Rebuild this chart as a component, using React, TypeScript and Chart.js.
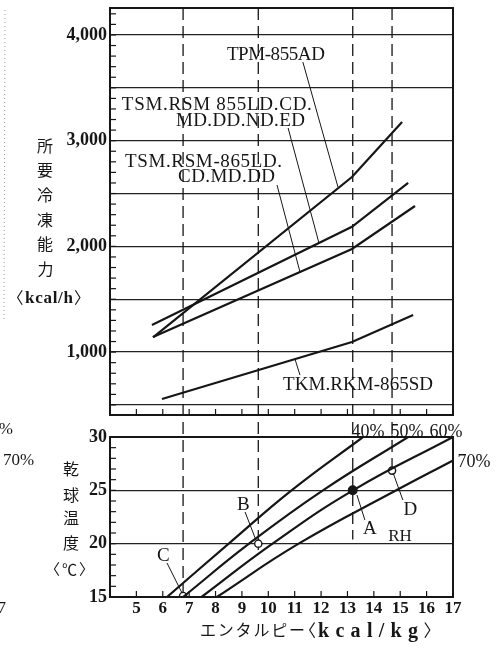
import React, { useEffect, useRef } from 'react';
import { Chart, registerables } from 'chart.js';

Chart.register(...registerables);

// ---------------- shared enthalpy axis (kcal/kg) ----------------
const enthalpyMin = 4;
const enthalpyMax = 17;
const enthalpyTicks = [5, 6, 7, 8, 9, 10, 11, 12, 13, 14, 15, 16, 17];

// ---------------- top panel: required refrigeration capacity (kcal/h) ----------------
const capacityMin = 405;
const capacityMax = 4255;
const capacityGrid = [500, 1000, 1500, 2000, 2500, 3000, 3500, 4000];
const capacityLabelled = [1000, 2000, 3000, 4000];

const tpmEnthalpy = [5.63, 13.17, 15.07];
const tpmCapacity = [1140, 2656, 3177];

const tsm855Enthalpy = [5.59, 13.17, 15.3];
const tsm855Capacity = [1256, 2185, 2600];

const tsm865Enthalpy = [5.63, 13.17, 15.56];
const tsm865Capacity = [1143, 1975, 2382];

const tkmEnthalpy = [5.97, 13.17, 15.49];
const tkmCapacity = [556, 1096, 1351];

// ---------------- bottom panel: dry bulb temperature (°C) ----------------
const tempMin = 15;
const tempMax = 30;
const tempGrid = [15, 20, 25, 30];

const rh40Enthalpy = [6.16, 8.5, 10.88, 13.59];
const rh40Temp = [15, 20, 25, 30];
const rh50Enthalpy = [6.77, 9.27, 12.07, 15.3];
const rh50Temp = [15, 20, 25, 30];
const rh60Enthalpy = [7.47, 10.16, 13.21, 17.0];
const rh60Temp = [15, 20, 25, 30];
const rh70Enthalpy = [8.05, 11.15, 14.85, 17.0];
const rh70Temp = [15, 20, 25, 27.8];

// state points A-D
const pointNames = ['A', 'B', 'C', 'D'];
const pointEnthalpy = [13.2, 9.62, 6.77, 14.69];
const pointTemp = [25, 20, 15.1, 26.85];

// dashed guides (enthalpy of each point, and where each guide stops in the lower panel)
const guideEnthalpy = [6.77, 9.62, 13.2, 14.69];
const guideTempEnd = [15, 19.4, 20.4, 26.85];

// ---------------- annotations (data coordinates) ----------------
const topLabels = [
  { text: 'TPM-855AD', e: 8.43, v: 3824, w: 98 },
  { text: 'TSM.RSM 855LD.CD.', e: 4.45, v: 3351, w: 190 },
  { text: 'MD.DD.ND.ED', e: 6.5, v: 3205, w: 129 },
  { text: 'TSM.RSM-865LD.', e: 4.57, v: 2817, w: 157 },
  { text: 'CD.MD.DD', e: 6.58, v: 2666, w: 97 },
  { text: 'TKM.RKM-865SD', e: 10.56, v: 703, w: 150 },
];
const topLeaderStartE = [11.31, 10.75, 10.33, 11.01];
const topLeaderStartV = [3744, 3120, 2581, 935];
const topLeaderEndE = [12.64, 11.92, 11.2, 11.2];
const topLeaderEndV = [2562, 2032, 1758, 783];

const rhLabels = [
  { text: '40%', e: 13.78, t: 30.62 },
  { text: '50%', e: 15.26, t: 30.62 },
  { text: '60%', e: 16.73, t: 30.62 },
  { text: '70%', e: 17.8, t: 27.84 },
];
const pointLabelE = [13.85, 9.04, 6.01, 15.37];
const pointLabelT = [21.56, 23.72, 18.94, 23.34];
const rhTitle = { text: 'RH', e: 14.99, t: 20.81 };
const bottomLeaderStartE = [13.36, 9.12, 6.16, 14.73];
const bottomLeaderStartT = [24.56, 22.97, 18.19, 26.63];
const bottomLeaderEndE = [13.66, 9.53, 6.73, 15.1];
const bottomLeaderEndT = [22.22, 20.34, 15.38, 24.09];

// ---------------- styling / layout ----------------
const INK = '#161616';
const SERIF = '"Liberation Serif", "DejaVu Serif", serif';
const CJK = '"Noto Sans CJK JP", "Noto Sans CJK SC", sans-serif';
const W = 501;
const H = 648;
const PLOT_LEFT = 110;
const PLOT_RIGHT_PAD = 48;
const TOP_PANEL_TOP = 8;
const TOP_PANEL_BOTTOM = 415;
const BOTTOM_PANEL_TOP = 437;
const BOTTOM_PANEL_BOTTOM = 597;
const DASH = [12, 6];

function pts(xs: number[], ys: number[]) {
  return xs.map((x, i) => ({ x, y: ys[i] }));
}

function curve(xs: number[], ys: number[], smooth = false) {
  return {
    data: pts(xs, ys),
    borderColor: INK,
    borderWidth: 2.2,
    pointRadius: 0,
    fill: false,
    tension: smooth ? 0.45 : 0,
  };
}

function leaders(sx: number[], sy: number[], ex: number[], ey: number[]) {
  return sx.map((_, i) => ({
    data: [
      { x: sx[i], y: sy[i] },
      { x: ex[i], y: ey[i] },
    ],
    borderColor: INK,
    borderWidth: 1,
    pointRadius: 0,
    fill: false,
    tension: 0,
  }));
}

function strokeLine(ctx: any, x1: number, y1: number, x2: number, y2: number) {
  ctx.beginPath();
  ctx.moveTo(x1, y1);
  ctx.lineTo(x2, y2);
  ctx.stroke();
}

// text drawn char-by-char so that it spans a given width (the scan's wide typesetting)
function drawText(ctx: any, text: string, x: number, cy: number, font: string, align: string, width?: number) {
  ctx.save();
  ctx.font = font;
  ctx.fillStyle = INK;
  ctx.textAlign = 'left';
  ctx.textBaseline = 'alphabetic';
  const chars = Array.from(text);
  const adv = chars.map((c) => ctx.measureText(c).width);
  const natural = adv.reduce((a, b) => a + b, 0);
  const spacing = width !== undefined && chars.length > 1 ? (width - natural) / (chars.length - 1) : 0;
  const total = width !== undefined ? width : natural;
  let sx = align === 'left' ? x : align === 'center' ? x - total / 2 : x - total;
  const cap = ctx.measureText('H').actualBoundingBoxAscent;
  const baseline = cy + cap / 2;
  chars.forEach((c, i) => {
    ctx.fillText(c, sx, baseline);
    sx += adv[i] + spacing;
  });
  ctx.restore();
}

// single glyph (or short string) with its ink box centred at (cx, cy)
function drawCentered(ctx: any, text: string, cx: number, cy: number, font: string) {
  ctx.save();
  ctx.font = font;
  ctx.fillStyle = INK;
  ctx.textAlign = 'left';
  ctx.textBaseline = 'alphabetic';
  const m = ctx.measureText(text);
  const x = cx - (m.actualBoundingBoxRight - m.actualBoundingBoxLeft) / 2;
  const y = cy + (m.actualBoundingBoxAscent - m.actualBoundingBoxDescent) / 2;
  ctx.fillText(text, x, y);
  ctx.restore();
}

const topDecor = {
  id: 'topDecor',
  beforeDatasetsDraw(chart: any) {
    const { ctx, chartArea: a, scales } = chart;
    ctx.save();
    ctx.strokeStyle = INK;
    ctx.lineWidth = 1.3;
    ctx.setLineDash(DASH);
    guideEnthalpy.forEach((e) => {
      const px = scales.x.getPixelForValue(e);
      strokeLine(ctx, px, a.top, px, BOTTOM_PANEL_TOP);
    });
    ctx.restore();
  },
  afterDraw(chart: any) {
    const { ctx, chartArea: a, scales } = chart;
    const x = scales.x;
    const y = scales.y;
    ctx.save();
    ctx.strokeStyle = INK;
    ctx.lineWidth = 1.2;
    for (let v = 500; v <= 4200; v += 100) {
      const py = y.getPixelForValue(v);
      strokeLine(ctx, a.left, py, a.left + 6, py);
    }
    enthalpyTicks.forEach((e) => {
      if (e >= enthalpyMax) return;
      const px = x.getPixelForValue(e);
      strokeLine(ctx, px, a.bottom, px, a.bottom - 6);
    });
    ctx.lineWidth = 2;
    ctx.strokeRect(a.left, a.top, a.right - a.left, a.bottom - a.top);

    topLabels.forEach((l) => {
      drawText(ctx, l.text, x.getPixelForValue(l.e), y.getPixelForValue(l.v), `19px ${SERIF}`, 'left', l.w);
    });

    // vertical axis title
    const titleChars = ['所', '要', '冷', '凍', '能', '力'];
    titleChars.forEach((c, i) => drawCentered(ctx, c, 45, 146 + i * 24.6, `16px ${CJK}`));
    drawCentered(ctx, '〈', 20, 297, `16px ${CJK}`);
    drawText(ctx, 'kcal/h', 25, 297, `bold 17px ${SERIF}`, 'left', 48);
    drawCentered(ctx, '〉', 77.5, 297, `16px ${CJK}`);

    // scan edge of the facing page
    ctx.strokeStyle = '#9a9a9a';
    ctx.lineWidth = 1;
    ctx.setLineDash([1, 3]);
    strokeLine(ctx, 5, 10, 4, 320);
    ctx.restore();
  },
};

const bottomDecor = {
  id: 'bottomDecor',
  beforeDatasetsDraw(chart: any) {
    const { ctx, chartArea: a, scales } = chart;
    ctx.save();
    ctx.strokeStyle = INK;
    ctx.lineWidth = 1.3;
    ctx.setLineDash(DASH);
    ctx.lineDashOffset = (BOTTOM_PANEL_TOP - TOP_PANEL_TOP) % (DASH[0] + DASH[1]);
    guideEnthalpy.forEach((e, i) => {
      const px = scales.x.getPixelForValue(e);
      strokeLine(ctx, px, a.top, px, scales.y.getPixelForValue(guideTempEnd[i]));
    });
    ctx.restore();
  },
  afterDraw(chart: any) {
    const { ctx, chartArea: a, scales } = chart;
    const x = scales.x;
    const y = scales.y;
    ctx.save();
    ctx.strokeStyle = INK;
    ctx.lineWidth = 1.2;
    for (let t = tempMin; t <= tempMax; t += 1) {
      const py = y.getPixelForValue(t);
      strokeLine(ctx, a.left, py, a.left + 6, py);
    }
    enthalpyTicks.forEach((e) => {
      if (e >= enthalpyMax) return;
      const px = x.getPixelForValue(e);
      strokeLine(ctx, px, a.bottom, px, a.bottom - 6);
    });
    ctx.lineWidth = 2;
    ctx.strokeRect(a.left, a.top, a.right - a.left, a.bottom - a.top);

    rhLabels.forEach((l) => {
      drawText(ctx, l.text, x.getPixelForValue(l.e), y.getPixelForValue(l.t), `18px ${SERIF}`, 'center');
    });
    pointNames.forEach((n, i) => {
      drawCentered(ctx, n, x.getPixelForValue(pointLabelE[i]), y.getPixelForValue(pointLabelT[i]), `19px ${SERIF}`);
    });
    drawText(ctx, rhTitle.text, x.getPixelForValue(rhTitle.e), y.getPixelForValue(rhTitle.t), `17px ${SERIF}`, 'center');

    // vertical axis title
    const titleChars = ['乾', '球', '温', '度'];
    const titleY = [469, 495, 518, 543];
    titleChars.forEach((c, i) => drawCentered(ctx, c, 71, titleY[i], `16px ${CJK}`));
    drawCentered(ctx, '〈', 56.5, 569, `15px ${CJK}`);
    drawCentered(ctx, '℃', 69.5, 569, `15px ${CJK}`);
    drawCentered(ctx, '〉', 82.5, 569, `15px ${CJK}`);

    // horizontal axis title
    drawText(ctx, 'エンタルピー', 200, 630, `16px ${CJK}`, 'left', 105);
    drawCentered(ctx, '〈', 312, 630, `17px ${CJK}`);
    drawText(ctx, 'kcal/kg', 318, 630, `bold 20px ${SERIF}`, 'left', 100);
    drawCentered(ctx, '〉', 427, 630, `17px ${CJK}`);

    // fragments of the facing page
    drawText(ctx, '60%', 13, 428, `17px ${SERIF}`, 'right');
    drawText(ctx, '70%', 3, 459, `17px ${SERIF}`, 'left');
    drawText(ctx, '17', 6, 607, `17px ${SERIF}`, 'right');
    ctx.restore();
  },
};

export default function App() {
  const topRef = useRef<HTMLCanvasElement>(null);
  const bottomRef = useRef<HTMLCanvasElement>(null);

  useEffect(() => {
    const tickFont = { family: SERIF, size: 18, weight: 'bold' as const };

    const top = new Chart(topRef.current as HTMLCanvasElement, {
      type: 'line',
      data: {
        datasets: [
          curve(tpmEnthalpy, tpmCapacity),
          curve(tsm855Enthalpy, tsm855Capacity),
          curve(tsm865Enthalpy, tsm865Capacity),
          curve(tkmEnthalpy, tkmCapacity),
          ...leaders(topLeaderStartE, topLeaderStartV, topLeaderEndE, topLeaderEndV),
        ] as any,
      },
      options: {
        animation: false,
        responsive: false,
        maintainAspectRatio: false,
        devicePixelRatio: 1,
        events: [],
        layout: { padding: { left: 0, right: PLOT_RIGHT_PAD, top: TOP_PANEL_TOP, bottom: H - TOP_PANEL_BOTTOM } },
        plugins: { legend: { display: false }, tooltip: { enabled: false } },
        scales: {
          x: { type: 'linear', min: enthalpyMin, max: enthalpyMax, display: false },
          y: {
            type: 'linear',
            min: capacityMin,
            max: capacityMax,
            position: 'left',
            afterBuildTicks: (s: any) => {
              s.ticks = capacityGrid.map((v) => ({ value: v }));
            },
            afterFit: (s: any) => {
              s.width = PLOT_LEFT;
              s.paddingTop = 0;
              s.paddingBottom = 0;
            },
            border: { display: false },
            grid: { color: '#222', lineWidth: 1.3, drawTicks: false },
            ticks: {
              color: INK,
              font: tickFont,
              padding: 3,
              autoSkip: false,
              callback: (v: any) => (capacityLabelled.includes(Number(v)) ? Number(v).toLocaleString('en-US') : ''),
            },
          },
        },
      } as any,
      plugins: [topDecor],
    });

    const bottom = new Chart(bottomRef.current as HTMLCanvasElement, {
      type: 'line',
      data: {
        datasets: [
          curve(rh40Enthalpy, rh40Temp, true),
          curve(rh50Enthalpy, rh50Temp, true),
          curve(rh60Enthalpy, rh60Temp, true),
          curve(rh70Enthalpy, rh70Temp, true),
          ...leaders(bottomLeaderStartE, bottomLeaderStartT, bottomLeaderEndE, bottomLeaderEndT),
          {
            data: pts(pointEnthalpy, pointTemp),
            showLine: false,
            pointRadius: [4.3, 3.6, 3.6, 3.6],
            pointBorderWidth: 1.4,
            pointBorderColor: INK,
            pointBackgroundColor: [INK, '#ffffff', '#ffffff', '#ffffff'],
          },
        ] as any,
      },
      options: {
        animation: false,
        responsive: false,
        maintainAspectRatio: false,
        devicePixelRatio: 1,
        events: [],
        layout: { padding: { left: 0, right: PLOT_RIGHT_PAD, top: BOTTOM_PANEL_TOP, bottom: 0 } },
        plugins: { legend: { display: false }, tooltip: { enabled: false } },
        scales: {
          x: {
            type: 'linear',
            min: enthalpyMin,
            max: enthalpyMax,
            position: 'bottom',
            afterBuildTicks: (s: any) => {
              s.ticks = enthalpyTicks.map((v) => ({ value: v }));
            },
            afterFit: (s: any) => {
              s.height = H - BOTTOM_PANEL_BOTTOM;
              s.paddingLeft = 0;
              s.paddingRight = 0;
            },
            border: { display: false },
            grid: { display: false, drawTicks: false },
            ticks: { color: INK, font: { family: SERIF, size: 17, weight: 'bold' }, padding: 1, autoSkip: false, maxRotation: 0 },
          },
          y: {
            type: 'linear',
            min: tempMin,
            max: tempMax,
            position: 'left',
            afterBuildTicks: (s: any) => {
              s.ticks = tempGrid.map((v) => ({ value: v }));
            },
            afterFit: (s: any) => {
              s.width = PLOT_LEFT;
              s.paddingTop = 0;
              s.paddingBottom = 0;
            },
            border: { display: false },
            grid: { color: '#222', lineWidth: 1.3, drawTicks: false },
            ticks: { color: INK, font: tickFont, padding: 3, autoSkip: false },
          },
        },
      } as any,
      plugins: [bottomDecor],
    });

    return () => {
      top.destroy();
      bottom.destroy();
    };
  }, []);

  return (
    <div style={{ position: 'absolute', left: 0, top: 0, width: W, height: H, background: '#ffffff', overflow: 'hidden' }}>
      <canvas ref={bottomRef} width={W} height={H} style={{ position: 'absolute', left: 0, top: 0 }} />
      <canvas ref={topRef} width={W} height={H} style={{ position: 'absolute', left: 0, top: 0 }} />
    </div>
  );
}
